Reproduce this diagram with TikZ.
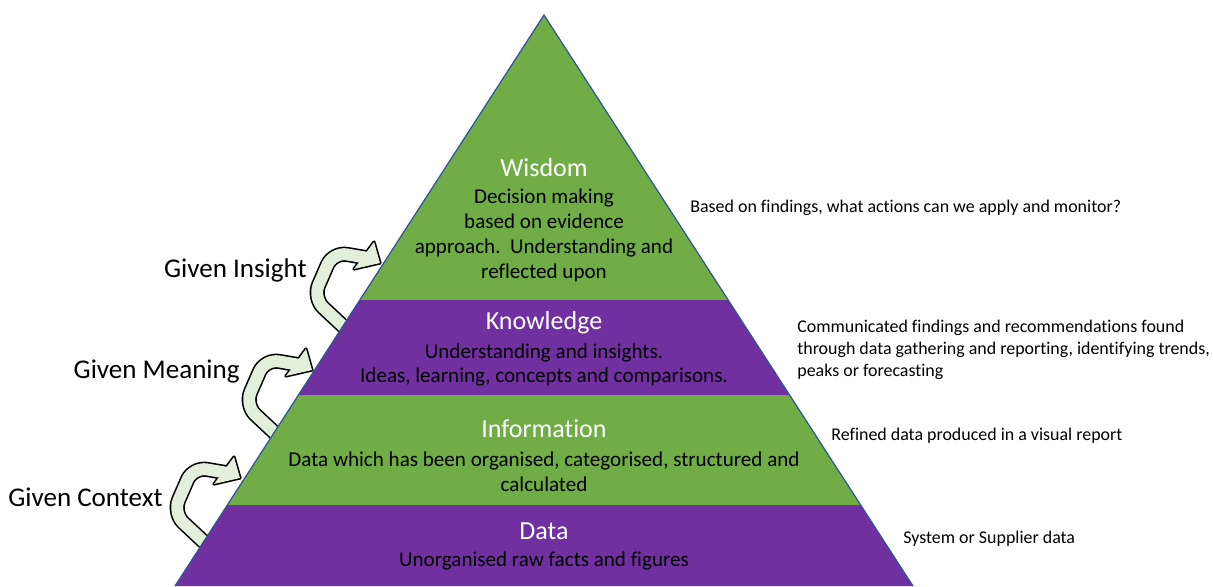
\documentclass[tikz,border=0pt]{standalone}
\usepackage{fontspec}
\setmainfont[Ligatures=NoCommon]{Carlito}
\definecolor{layergreen}{HTML}{70AD47}
\definecolor{layerpurple}{HTML}{7030A0}
\definecolor{edgeblue}{HTML}{2F5597}
\definecolor{turnfill}{HTML}{E2EFDA}
\tikzset{
  title/.style={font=\fontsize{14.8}{17}\selectfont, text=white, inner sep=0},
  body/.style={font=\fontsize{12}{14.2}\selectfont, align=center, inner sep=0},
  note/.style={font=\fontsize{10.2}{12.5}\selectfont, anchor=west, align=left, inner sep=0},
  given/.style={font=\fontsize{15.4}{18}\selectfont, anchor=east, inner sep=0},
  pics/uturn/.style={code={
    \draw[line width=8.6pt, line join=round, rounded corners=8pt] (-20,79) -- (-67,35) -- (-47,-11) -- (-12,-5);
    \filldraw[line width=1.8pt, line join=round] (-6,-21) -- (0,0) -- (-26,6) -- cycle;
    \draw[line width=6.8pt, turnfill, line join=round, rounded corners=8pt] (-20,79) -- (-67,35) -- (-47,-11) -- (-12,-5);
    \fill[turnfill] (-6,-21) -- (0,0) -- (-26,6) -- cycle;
  }},
}
\begin{document}
\begin{tikzpicture}[x=0.02cm, y=-0.02cm]
  \useasboundingbox (0,0) rectangle (1213,586);

  % turn arrows, tails go under the pyramid
  \pic at (380,263) {uturn};
  \pic at (312,370) {uturn};
  \pic at (240,478) {uturn};

  % pyramid layers
  \coordinate (apex) at (544,15);
  \coordinate (wl) at (359.8,300); \coordinate (wr) at (728.2,300);
  \coordinate (kl) at (298.4,395); \coordinate (kr) at (789.6,395);
  \coordinate (il) at (227.3,505); \coordinate (ir) at (860.7,505);
  \coordinate (dl) at (175,586);   \coordinate (dr) at (913,586);
  \fill[layergreen] (apex) -- (wr) -- (wl) -- cycle;
  \fill[layerpurple] (wl) -- (wr) -- (kr) -- (kl) -- cycle;
  \fill[layergreen] (kl) -- (kr) -- (ir) -- (il) -- cycle;
  \fill[layerpurple] (il) -- (ir) -- (dr) -- (dl) -- cycle;
  \draw[edgeblue, line width=0.7pt] (dl) -- (apex) -- (dr);

  % layer texts
  \node[title] (wisdom) at (544,168) {Wisdom};
  \node[body] (wisdomtxt) at (544,235) {Decision making\\based on evidence\\approach.\ \ Understanding and\\reflected upon};
  \node[title] (knowledge) at (544,323) {Knowledge};
  \node[body] (knowledgetxt) at (544,365) {Understanding and insights.\\Ideas, learning, concepts and comparisons.};
  \node[title] (information) at (544,429) {Information};
  \node[body] (informationtxt) at (544,472) {Data which has been organised, categorised, structured and\\calculated};
  \node[title] (data) at (544,531) {Data};
  \node[body] (datatxt) at (544,561) {Unorganised raw facts and figures};

  % notes on the right
  \node[note] (wisdomnote) at (690,208) {Based on findings, what actions can we apply and monitor?};
  \node[note] (knowledgenote) at (797,350) {Communicated findings and recommendations found\\through data gathering and reporting, identifying trends,\\peaks or forecasting};
  \node[note] (informationnote) at (831,436) {Refined data produced in a visual report};
  \node[note] (datanote) at (903,539) {System or Supplier data};

  % labels on the left
  \node[given] (insight) at (307,270) {Given Insight};
  \node[given] (meaning) at (240,372) {Given Meaning};
  \node[given] (context) at (163,497) {Given Context};
\end{tikzpicture}
\end{document}
